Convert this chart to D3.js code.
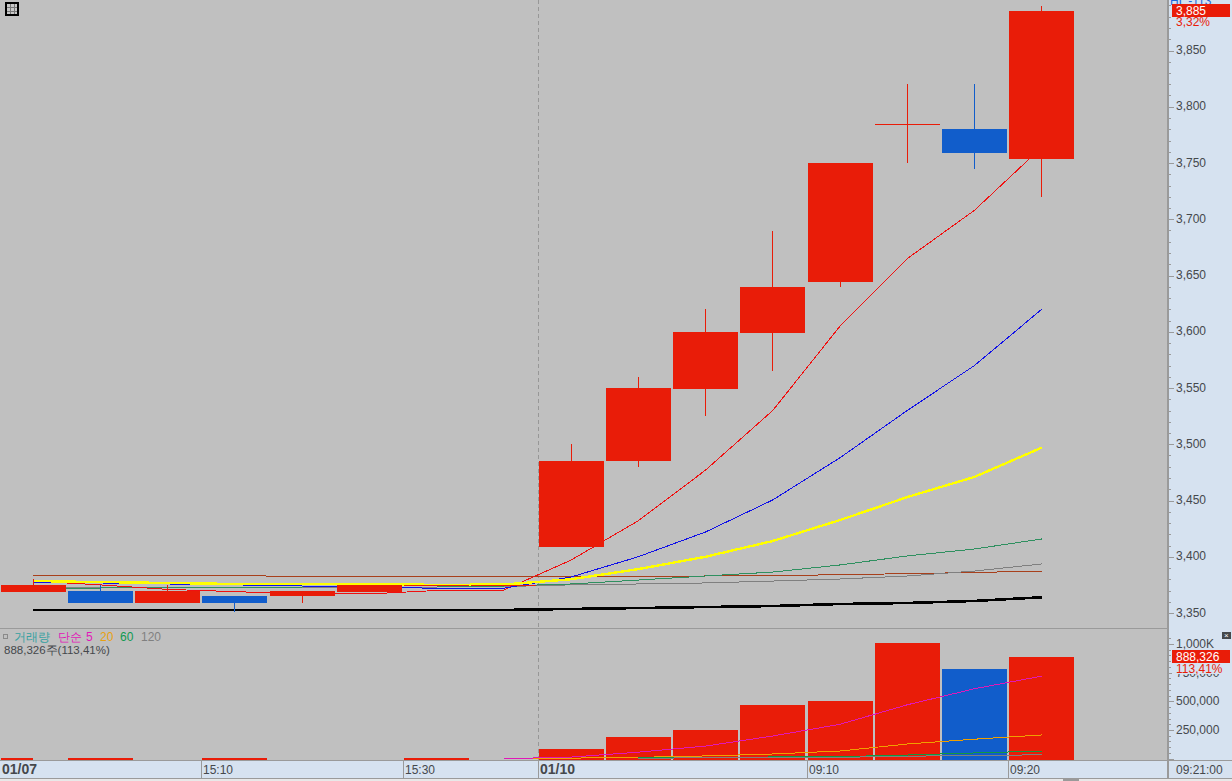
<!DOCTYPE html>
<html><head><meta charset="utf-8">
<script src="https://cdn.jsdelivr.net/npm/d3@7"></script>
<style>html,body{margin:0;padding:0;background:#c0c0c0;overflow:hidden}svg{display:block}text{font-family:"Liberation Sans",Arial,sans-serif}</style>
</head><body><svg id="c" width="1232" height="781"></svg>
<script>
const categories=["15:00","15:05a","15:05","15:10","15:15","15:20","15:30","15:40","09:00","09:02","09:04","09:06","09:10","09:14","09:17","09:20"];
const opens =[3369,3370,3359,3365,3365,3369,3375,3375,3409,3485,3549,3599,3644,3785,3780,3754];
const highs =[3380,3375,3375,3365,3370,3375,3375,3375,3500,3560,3620,3690,3750,3820,3820,3890];
const lows  =[3369,3359,3359,3351,3359,3369,3375,3375,3409,3480,3525,3565,3640,3750,3745,3720];
const closes=[3375,3359,3370,3359,3370,3375,3375,3375,3485,3550,3600,3640,3750,3785,3759,3885];
const ma5  =[3378.4,3375,3371,3369,3367,3367,3370,3370.4,3397,3432,3477,3530,3605,3665,3708,3764];
const ma10 =[3377.5,3376.7,3375.8,3375,3374,3373,3372,3372,3382,3400,3422,3450.5,3488,3530,3570,3620];
const ma20 =[3378.4,3377.5,3376.7,3375.8,3375.8,3375.8,3375,3375.3,3380,3389,3400,3414,3432.6,3453,3471,3497];
const ma60 =[3372.2,3372.2,3373.1,3373.1,3373.1,3374,3374,3374,3375.8,3379.3,3382.9,3386.4,3392.7,3400.7,3406.9,3415.8];
const ma120=[3373.1,3373.1,3373.1,3373.1,3373.1,3373.1,3373.1,3373.5,3375,3375.8,3376.7,3378.4,3380.2,3382.9,3387.3,3393.6];
const ma200=[3383.3,3383.3,3383.3,3383.3,3382.4,3382.4,3382.4,3382.4,3382.4,3382.4,3382.9,3383.3,3384,3385,3386,3387.3];
const ma400=[3352.7,3352.7,3352.7,3352.7,3352.7,3352.7,3352.7,3352.7,3353.6,3354.4,3355.3,3356.2,3358,3358.9,3360.7,3364];
const volumes=[0,7000,0,7000,0,0,7000,0,85000,190000,250000,468000,503000,1010000,782000,888326];
const volUp=[1,1,1,1,1,1,1,1,1,1,1,1,1,1,0,1];
const vma5 =[null,null,null,null,null,null,null,0,14000,57000,110000,198000,300000,470000,610000,720000];
const vma20=[null,null,null,null,null,null,null,0,5000,12000,24000,41000,67000,128000,170000,207000];
const vma60=[null,null,null,null,null,null,null,null,null,7000,11000,15000,18000,32000,50000,67000];
const vma120=[null,null,null,null,null,null,null,null,null,5000,7000,9000,12000,21000,30000,33000];
const priceTicks=[3350,3400,3450,3500,3550,3600,3650,3700,3750,3800,3850];
const volTicks=[250000,500000,750000,1000000];
const xLabels=[{i:0,t:"01/07",b:1},{i:3,t:"15:10"},{i:6,t:"15:30"},{i:8,t:"01/10",b:1},{i:12,t:"09:10"},{i:15,t:"09:20"}];
const priceLast="3,885",pricePct="3,32%",volLast="888,326",volPct="113,41%",volLegend="888,326주(113,41%)",lastTime="09:21:00";

const RED="#e91c08",BLUE="#115dcb",AXB="#d6e2f0",LINE="#9a9a9a",TXT="#45484c";
const svg=d3.select("#c");
const x=d3.scaleLinear().domain([0,15]).range([33,1041.75]);
const y=d3.scaleLinear().domain([3350,3850]).range([613,50.5]);
const yv=d3.scaleLinear().domain([0,1000000]).range([758.7,644]);
const W=65,edge=i=>Math.floor(x(i)-33);

svg.append("rect").attr("width",1232).attr("height",781).attr("fill","#c0c0c0");
svg.append("rect").attr("x",1168).attr("y",0).attr("width",64).attr("height",781).attr("fill",AXB);
svg.append("rect").attr("x",0).attr("y",761).attr("width",1232).attr("height",18).attr("fill",AXB);
svg.append("rect").attr("x",0).attr("y",779).attr("width",1232).attr("height",2).attr("fill","#e8e8e8");

const crisp=s=>s.attr("shape-rendering","crispEdges");
crisp(svg.append("line").attr("x1",538.5).attr("x2",538.5).attr("y1",0).attr("y2",760)
  .attr("stroke","#979797").attr("stroke-dasharray","4,3"));

const line=(yy)=>d3.line().defined(d=>d!=null).x((d,i)=>x(i)).y(d=>yy(d));
[[ma400,"#000",2.6],[ma200,"#a8401c",1],[ma120,"#808080",1],[ma60,"#2f9060",1],[ma5,"#f01010",1],[ma10,"#1010e8",1],[ma20,"#ffff00",2.4]].forEach(([d,c,w])=>{
  crisp(svg.append("path").attr("d",line(y)(d)).attr("fill","none").attr("stroke",c).attr("stroke-width",w));
});
const g=svg.append("g").selectAll("g").data(categories).join("g");
g.each(function(_,i){
  const up=closes[i]>=opens[i],c=up?RED:BLUE,s=d3.select(this);
  crisp(s.append("line").attr("x1",Math.floor(x(i))+.5).attr("x2",Math.floor(x(i))+.5)
    .attr("y1",y(highs[i])).attr("y2",y(lows[i])).attr("stroke",c));
  const t=Math.min(y(opens[i]),y(closes[i])),b=Math.max(y(opens[i]),y(closes[i]));
  crisp(s.append("rect").attr("x",edge(i)+1).attr("width",W).attr("y",t).attr("height",Math.max(b-t,1)).attr("fill",c));
});

crisp(svg.append("g").selectAll("rect").data(volumes).join("rect")
  .attr("x",(d,i)=>edge(i)+1).attr("width",W)
  .attr("y",d=>yv(d)).attr("height",d=>d?760-yv(d):0)
  .attr("fill",(d,i)=>volUp[i]?RED:BLUE));
crisp(svg.append("rect").attr("x",1).attr("y",758).attr("width",32).attr("height",2).attr("fill",RED));
[[vma20,"#f0a000"],[vma60,"#0f9a40"],[vma120,"#808080"],[vma5,"#e018b8"]].forEach(([d,c])=>{
  crisp(svg.append("path").attr("d",line(yv)(d)).attr("fill","none").attr("stroke",c).attr("stroke-width",1));
});

const frame=(a,b,c,d,w=2)=>crisp(svg.append("line").attr("x1",a).attr("y1",b).attr("x2",c).attr("y2",d).attr("stroke",LINE).attr("stroke-width",w));
frame(1167.5,0,1167.5,779);
frame(0,628.5,1168,628.5,1.5);
frame(0,760.5,1232,760.5,1.5);
frame(0,778.5,1232,778.5,1.5);

const tick=(v,l,yy)=>crisp(svg.append("line").attr("x1",1168).attr("x2",1168+l).attr("y1",Math.round(yy(v))+.5).attr("y2",Math.round(yy(v))+.5).attr("stroke",LINE));
d3.range(3350,3891,10).forEach(v=>tick(v,v%50?3:6,y));
d3.range(0,1050001,50000).forEach(v=>tick(v,v%250000?3:6,yv));
const label=(xx,yy,t,o={})=>svg.append("text").attr("x",xx).attr("y",yy).text(t)
  .attr("fill",o.c||TXT).attr("font-size",o.s||12).attr("font-weight",o.b?"bold":"normal")
  .attr("font-family",o.f||null);
priceTicks.forEach(v=>label(1176,y(v)+3.5,d3.format(",")(v)));
volTicks.forEach(v=>label(1176,yv(v)+4,v===1000000?"1,000K":d3.format(",")(v)));

label(1170,5,"HL -113",{c:"#1c66d8"});
svg.append("rect").attr("x",1172).attr("y",4).attr("width",58).attr("height",13).attr("fill",RED);
label(1176,15,priceLast,{c:"#fff"});
label(1176,26,pricePct,{c:RED});
svg.append("rect").attr("x",1172).attr("y",650).attr("width",58).attr("height",13).attr("fill",RED);
label(1176,661,volLast,{c:"#fff"});
svg.append("rect").attr("x",1172).attr("y",663).attr("width",58).attr("height",11).attr("fill",AXB);
label(1176,673,volPct,{c:RED});

xLabels.forEach(d=>{
  const e=edge(d.i);
  if(d.i) frame(e+.5,761,e+.5,778,1.5);
  label(e+2,774,d.t,{b:d.b,s:d.b?14:12});
});
label(1176,774,lastTime);
frame(1168,761,1168,778,1.5);

const kr='"Noto Sans CJK KR",sans-serif';
crisp(svg.append("rect").attr("x",3.5).attr("y",634.5).attr("width",4).attr("height",4).attr("fill","none").attr("stroke","#8a8a8a"));
label(14,641,"거래량",{c:"#36a0a0",f:kr});
label(58,641,"단순",{c:"#e018b8",f:kr});
label(86,641,"5",{c:"#e018b8"});
label(100,641,"20",{c:"#e8a010"});
label(120,641,"60",{c:"#109a50"});
label(141,641,"120",{c:"#808080"});
label(4,654,volLegend,{f:kr,s:11.5});

crisp(svg.append("rect").attr("x",6).attr("y",3).attr("width",12).attr("height",12).attr("fill","#c8c8c8").attr("stroke","#000").attr("stroke-width",2));
[10,14].forEach(a=>crisp(svg.append("line").attr("x1",a).attr("x2",a).attr("y1",4).attr("y2",14).attr("stroke","#777")));
[7,11].forEach(a=>crisp(svg.append("line").attr("x1",7).attr("x2",17).attr("y1",a).attr("y2",a).attr("stroke","#777")));
crisp(svg.append("rect").attr("x",1222).attr("y",632).attr("width",9).attr("height",7).attr("fill","#45484c"));
label(1224,638,"×",{c:"#fff",s:8});
crisp(svg.append("rect").attr("x",1063).attr("y",779).attr("width",16).attr("height",2).attr("fill","#9a9a9a"));
</script></body></html>
